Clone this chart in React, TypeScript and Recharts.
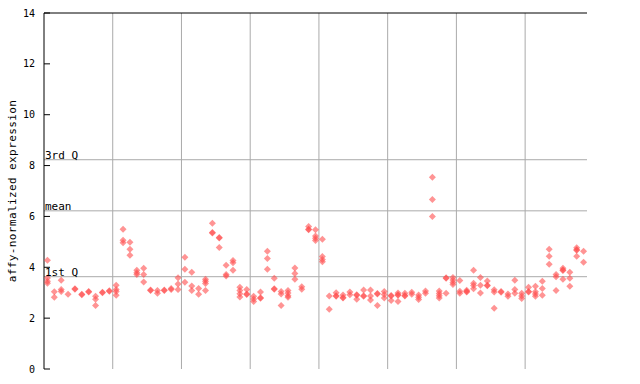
import React from 'react';
import { ScatterChart, Scatter, XAxis, YAxis, ReferenceLine } from 'recharts';

// one list of replicate values per sample column, left to right
const samples: number[][] = [
  [4.28, 3.58, 3.45, 3.37], [3.04, 2.82], [3.49, 3.13, 3.05], [2.94], [3.16, 3.14],
  [2.94, 2.92], [3.05, 3.03], [2.86, 2.74, 2.5], [3.02, 3.0], [3.08, 3.06],
  [3.29, 3.13, 3.05, 2.9], [5.5, 5.06, 4.96], [4.98, 4.71, 4.47], [3.88, 3.79, 3.72], [3.96, 3.72, 3.42],
  [3.11, 3.09], [3.09, 2.98], [3.11, 3.09], [3.17, 3.13], [3.59, 3.34, 3.13],
  [4.39, 3.92, 3.41], [3.8, 3.26, 3.09], [3.17, 2.94], [3.53, 3.45, 3.36, 3.09], [5.73, 5.37, 5.35],
  [5.17, 5.15, 4.78], [4.08, 3.72, 3.66], [4.27, 4.18, 3.88], [3.21, 3.09, 2.96, 2.83], [3.13, 2.95, 2.93],
  [2.86, 2.75, 2.65], [3.03, 2.8, 2.78], [4.63, 4.35, 3.92], [3.57, 3.16, 3.14], [3.05, 2.95, 2.5],
  [3.09, 2.99, 2.88, 2.82], [3.97, 3.76, 3.53], [3.23, 3.14], [5.6, 5.5, 5.48], [5.48, 5.23, 5.14, 5.05],
  [5.1, 4.42, 4.31, 4.22], [2.87, 2.35], [3.0, 2.88, 2.86], [2.91, 2.81, 2.79], [3.03, 2.92],
  [2.92, 2.9, 2.74], [3.11, 2.88, 2.86], [3.11, 2.87, 2.71], [2.97, 2.95, 2.5], [3.05, 2.93, 2.79],
  [2.89, 2.87, 2.69], [2.99, 2.92, 2.9, 2.65], [2.98, 2.89, 2.87], [3.02, 2.94], [2.91, 2.82, 2.73],
  [3.07, 2.98], [7.54, 6.67, 6.0], [3.07, 2.97, 2.88, 2.79], [3.59, 3.57, 2.98], [3.6, 3.5, 3.4, 3.32],
  [3.48, 3.06, 2.98], [3.1, 3.05, 3.03], [3.88, 3.37, 3.28, 3.16], [3.6, 3.29, 2.99], [3.46, 3.29, 3.27],
  [3.12, 3.03, 2.39], [3.05, 3.02], [2.95, 2.86], [3.49, 3.13, 2.98], [2.98, 2.87, 2.77],
  [3.21, 3.05, 3.03], [3.25, 3.04, 2.95, 2.86], [3.45, 3.17, 2.9], [4.71, 4.43, 4.12], [3.72, 3.63, 3.09],
  [3.96, 3.89, 3.87, 3.53], [3.8, 3.57, 3.25], [4.77, 4.69, 4.67, 4.43], [4.63, 4.2],
];

const groupBreaks = [9.5, 19.5, 29.5, 39.5, 49.5, 59.5, 69.5];
const yTicks = [0, 2, 4, 6, 8, 10, 12, 14];
const statLabels = ['1st Q', 'mean', '3rd Q'];
const statValues = [3.63, 6.22, 8.23];

const points = samples.flatMap((vals, i) => vals.map((v) => ({ x: i, y: v })));

const MONO = '"DejaVu Sans Mono", monospace';

const Diamond = (props: any) => {
  const { cx, cy } = props;
  const r = 3.5;
  return (
    <polygon
      points={`${cx},${cy - r} ${cx + r},${cy} ${cx},${cy + r} ${cx - r},${cy}`}
      fill="#ff4d4d"
      fillOpacity={0.6}
    />
  );
};

const LeftTick = (props: any) => {
  const { x, y, payload } = props;
  return (
    <g>
      <line x1={x} x2={x + 6} y1={y} y2={y} stroke="#000" />
      <text x={x - 9} y={y} textAnchor="end" dominantBaseline="central" fontSize={10} fontFamily={MONO} fill="#000">
        {payload.value}
      </text>
    </g>
  );
};

const RightTick = (props: any) => {
  const { x, y } = props;
  return <line x1={x - 5} x2={x} y1={y} y2={y} stroke="#000" />;
};

export default function App() {
  return (
    <div style={{ position: 'absolute', left: 0, top: 0, width: 640, height: 384, background: '#fff' }}>
      <ScatterChart width={640} height={384} margin={{ top: 13, right: 53, bottom: 15, left: 0 }}>
        <XAxis type="number" dataKey="x" domain={[-0.5, 78.5]} height={0} tick={false} tickLine={false} axisLine={{ stroke: '#000' }} />
        <YAxis
          yAxisId="l"
          type="number"
          dataKey="y"
          domain={[0, 14]}
          ticks={yTicks}
          width={44}
          tickSize={0}
          tickMargin={0}
          tickLine={false}
          tick={<LeftTick />}
          axisLine={{ stroke: '#000' }}
        />
        <YAxis
          yAxisId="r"
          orientation="right"
          type="number"
          domain={[0, 14]}
          ticks={yTicks}
          width={0}
          tickSize={0}
          tickMargin={0}
          tickLine={false}
          tick={<RightTick />}
          axisLine={{ stroke: '#000' }}
        />
        {groupBreaks.map((b) => (
          <ReferenceLine key={b} yAxisId="l" x={b} stroke="#aaaaaa" />
        ))}
        {statValues.map((v, i) => (
          <ReferenceLine
            key={statLabels[i]}
            yAxisId="l"
            y={v}
            stroke="#aaaaaa"
            label={{ value: statLabels[i], position: 'insideBottomLeft', offset: 1, fontSize: 11, fontFamily: MONO, fill: '#000' }}
          />
        ))}
        <ReferenceLine yAxisId="l" y={14} stroke="#000" />
        <Scatter yAxisId="l" data={points} shape={<Diamond />} isAnimationActive={false} />
      </ScatterChart>
      <svg width={640} height={384} style={{ position: 'absolute', left: 0, top: 0, pointerEvents: 'none' }}>
        <text
          transform="translate(12,191) rotate(-90)"
          textAnchor="middle"
          dominantBaseline="central"
          fontSize={11}
          letterSpacing={0.4}
          fontFamily={MONO}
          fill="#000"
        >
          affy-normalized expression
        </text>
      </svg>
    </div>
  );
}
